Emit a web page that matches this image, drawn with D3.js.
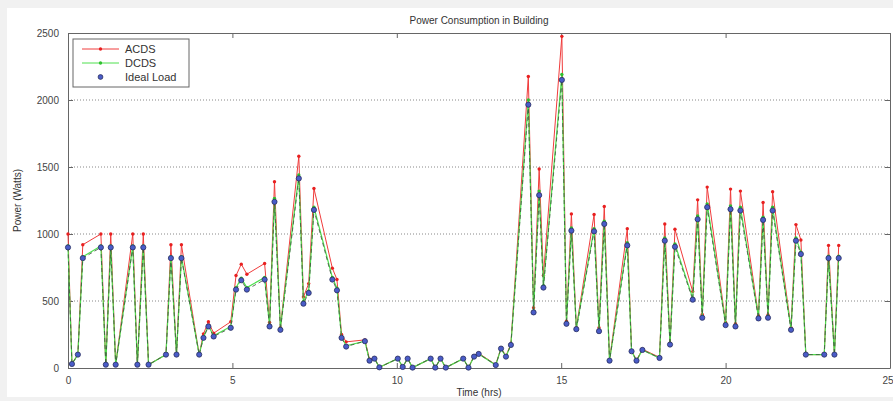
<!DOCTYPE html>
<html>
<head>
<meta charset="utf-8">
<script src="https://cdn.jsdelivr.net/npm/d3@7.9.0/dist/d3.min.js"></script>
<style>
  body { margin: 0; background: #fff; }
  svg { display: block; font-family: "Liberation Sans", Arial, sans-serif; }
  .tick text { fill: #444; font-size: 10px; }
  .tick line, .domain { stroke: #666; }
</style>
</head>
<body>
<svg id="chart" width="893" height="401"></svg>
<script>
// time of each sample (hrs)
const times = [
  0.00, 0.12, 0.30, 0.45,   1.00, 1.15, 1.30, 1.45,   1.97, 2.11, 2.29, 2.45,
  2.98, 3.13, 3.30, 3.45,   3.99, 4.12, 4.27, 4.43,   4.95, 5.11, 5.27, 5.44,
  5.98, 6.13, 6.28, 6.46,   7.02, 7.16, 7.32, 7.48,   8.04, 8.18, 8.32, 8.46,
  9.03, 9.17, 9.32, 9.47,   10.03, 10.18, 10.33, 10.48, 11.03, 11.17, 11.33, 11.49,
  12.02, 12.18, 12.35, 12.49, 13.01, 13.17, 13.32, 13.47, 14.00, 14.16, 14.33, 14.46,
  15.02, 15.16, 15.31, 15.46, 16.00, 16.15, 16.31, 16.47, 17.01, 17.14, 17.29, 17.47,
  17.99, 18.15, 18.31, 18.46, 19.00, 19.15, 19.29, 19.44, 20.00, 20.15, 20.30, 20.45,
  21.00, 21.14, 21.29, 21.43, 21.99, 22.14, 22.29, 22.44, 23.00, 23.13, 23.31, 23.44
];

const acds = [
  1000, 30, 100, 920,   1000, 25, 1000, 25,   1000, 25, 1000, 25,
  100, 920, 100, 920,   100, 255, 345, 260,   345, 690, 775, 700,
  780, 340, 1390, 300,  1580, 530, 630, 1340, 745, 660, 250, 195,
  210, 65, 75, 5,       70, 8, 70, 3,         70, 3, 70, 3,
  70, 3, 90, 110,       25, 150, 90, 180,     2175, 450, 1485, 690,
  2475, 350, 1150, 300, 1145, 300, 1205, 60,  1040, 130, 60, 140,
  80, 1075, 185, 1035,  570, 1255, 400, 1350, 340, 1335, 330, 1320,
  390, 1235, 395, 1315, 300, 1070, 955, 100,  100, 915, 100, 915
];

const dcds = [
  910, 30, 100, 830,    910, 25, 910, 25,     910, 25, 910, 25,
  100, 830, 100, 830,   100, 230, 315, 240,   310, 600, 670, 600,
  675, 320, 1265, 295,  1440, 495, 575, 1200, 675, 595, 230, 165,
  200, 55, 70, 5,       70, 8, 70, 3,         70, 3, 70, 3,
  70, 3, 85, 105,       22, 145, 85, 172,     2000, 425, 1320, 615,
  2190, 335, 1045, 295, 1040, 280, 1095, 55,  935, 125, 55, 135,
  75, 970, 180, 925,    520, 1135, 385, 1225, 330, 1210, 320, 1200,
  380, 1125, 385, 1200, 290, 970, 865, 100,   100, 835, 100, 835
];

const ideal = [
  900, 30, 100, 820,    900, 25, 900, 25,     900, 25, 900, 25,
  100, 820, 100, 820,   100, 225, 310, 235,   300, 585, 655, 585,
  660, 310, 1240, 285,  1415, 480, 560, 1180, 660, 580, 225, 160,
  200, 55, 70, 5,       70, 8, 70, 3,         70, 3, 70, 3,
  70, 3, 85, 105,       22, 145, 85, 172,     1965, 415, 1290, 600,
  2150, 330, 1025, 290, 1020, 275, 1075, 55,  915, 125, 55, 135,
  75, 950, 175, 905,    510, 1110, 375, 1200, 320, 1185, 310, 1175,
  370, 1105, 375, 1175, 285, 950, 850, 100,   100, 820, 100, 820
];

const xTicks = [0, 5, 10, 15, 20, 25];
const yTicks = [0, 500, 1000, 1500, 2000, 2500];
const legendLabels = ['ACDS', 'DCDS', 'Ideal Load'];

const margin = { left: 68, right: 3, top: 33, bottom: 33 };
const width = 893, height = 401;

const svg = d3.select('#chart');

// light grey figure frame like the screenshot
svg.append('rect').attr('width', width).attr('height', height).attr('fill', '#f1f1f1');
svg.append('rect').attr('x', 7).attr('y', 8).attr('width', width - 7).attr('height', height - 12).attr('fill', '#fff');

const x = d3.scaleLinear().domain([0, 25]).range([margin.left, width - margin.right]);
const y = d3.scaleLinear().domain([0, 2500]).range([height - margin.bottom, margin.top]);

// dotted horizontal grid
svg.append('g')
  .selectAll('line')
  .data(yTicks.slice(1, -1))
  .join('line')
  .attr('x1', x(0)).attr('x2', x(25))
  .attr('y1', d => y(d)).attr('y2', d => y(d))
  .attr('stroke', '#888')
  .attr('stroke-width', 1)
  .attr('stroke-dasharray', '1,2');

// axes (ticks pointing inward, MATLAB style)
svg.append('g')
  .attr('transform', `translate(0,${y(0)})`)
  .call(d3.axisBottom(x).tickValues(xTicks).tickFormat(d3.format('d'))
    .tickSizeInner(-5).tickSizeOuter(0).tickPadding(8))
  .call(g => g.selectAll('.tick text').attr('dy', '0.75em'))
  // last label would run past the window edge
  .call(g => g.selectAll('.tick text').filter(d => d === 25).attr('text-anchor', 'end').attr('x', 3));
svg.append('g')
  .attr('transform', `translate(0,${y(2500)})`)
  .call(d3.axisTop(x).tickValues(xTicks).tickSizeInner(-5).tickSizeOuter(0).tickFormat(''));
svg.append('g')
  .attr('transform', `translate(${x(0)},0)`)
  .call(d3.axisLeft(y).tickValues(yTicks).tickFormat(d3.format('d'))
    .tickSizeInner(-5).tickSizeOuter(0).tickPadding(9));
svg.append('g')
  .attr('transform', `translate(${x(25)},0)`)
  .call(d3.axisRight(y).tickValues(yTicks).tickSizeInner(-5).tickSizeOuter(0).tickFormat(''));

const rows = times.map((t, i) => ({ t, acds: acds[i], dcds: dcds[i], ideal: ideal[i] }));

function lineFor(key) {
  return d3.line().x(d => x(d.t)).y(d => y(d[key]));
}

const plot = svg.append('g');

// ACDS
plot.append('path')
  .datum(rows)
  .attr('d', lineFor('acds'))
  .attr('fill', 'none')
  .attr('stroke', '#f03c3c')
  .attr('stroke-width', 1);
plot.append('g').selectAll('circle')
  .data(rows)
  .join('circle')
  .attr('cx', d => x(d.t)).attr('cy', d => y(d.acds))
  .attr('r', 1.7)
  .attr('fill', '#e82020');

// DCDS
plot.append('path')
  .datum(rows)
  .attr('d', lineFor('dcds'))
  .attr('fill', 'none')
  .attr('stroke', '#4ee04e')
  .attr('stroke-width', 1.2);
plot.append('g').selectAll('circle')
  .data(rows)
  .join('circle')
  .attr('cx', d => x(d.t)).attr('cy', d => y(d.dcds))
  .attr('r', 1.7)
  .attr('fill', '#2fc02f');

// Ideal load: dark dashed trace + blue markers
plot.append('path')
  .datum(rows)
  .attr('d', lineFor('ideal'))
  .attr('fill', 'none')
  .attr('stroke', '#3d4f3d')
  .attr('stroke-opacity', 0.8)
  .attr('stroke-width', 1)
  .attr('stroke-dasharray', '4,3');
plot.append('g').selectAll('circle')
  .data(rows)
  .join('circle')
  .attr('cx', d => x(d.t)).attr('cy', d => y(d.ideal))
  .attr('r', 2.6)
  .attr('fill', '#4a5cc8')
  .attr('stroke', '#2a3060')
  .attr('stroke-width', 0.8);

// legend
const legend = svg.append('g').attr('transform', 'translate(73,39)');
legend.append('rect')
  .attr('width', 116).attr('height', 48)
  .attr('fill', '#fff').attr('stroke', '#666').attr('stroke-width', 1);
const legColors = ['#f03c3c', '#4ee04e', null];
const markColors = ['#e82020', '#2fc02f', '#4a5cc8'];
legendLabels.forEach((lab, i) => {
  const ly = 10 + i * 14;
  if (legColors[i]) {
    legend.append('line')
      .attr('x1', 9).attr('x2', 46).attr('y1', ly).attr('y2', ly)
      .attr('stroke', legColors[i]).attr('stroke-width', 1);
  }
  legend.append('circle')
    .attr('cx', 27.5).attr('cy', ly)
    .attr('r', i === 2 ? 2.4 : 1.7)
    .attr('fill', markColors[i])
    .attr('stroke', i === 2 ? '#2a3060' : 'none')
    .attr('stroke-width', 0.8);
  legend.append('text')
    .attr('x', 52).attr('y', ly).attr('dy', '0.35em')
    .attr('font-size', 11).attr('fill', '#333')
    .text(lab);
});

// title and axis labels
svg.append('text')
  .attr('x', (x(0) + x(25)) / 2).attr('y', 24)
  .attr('text-anchor', 'middle').attr('font-size', 10).attr('fill', '#333')
  .text('Power Consumption in Building');
svg.append('text')
  .attr('x', (x(0) + x(25)) / 2).attr('y', 396)
  .attr('text-anchor', 'middle').attr('font-size', 10).attr('fill', '#333')
  .text('Time (hrs)');
svg.append('text')
  .attr('transform', `translate(21,${(y(0) + y(2500)) / 2}) rotate(-90)`)
  .attr('text-anchor', 'middle').attr('font-size', 10).attr('fill', '#333')
  .text('Power (Watts)');
</script>
</body>
</html>
